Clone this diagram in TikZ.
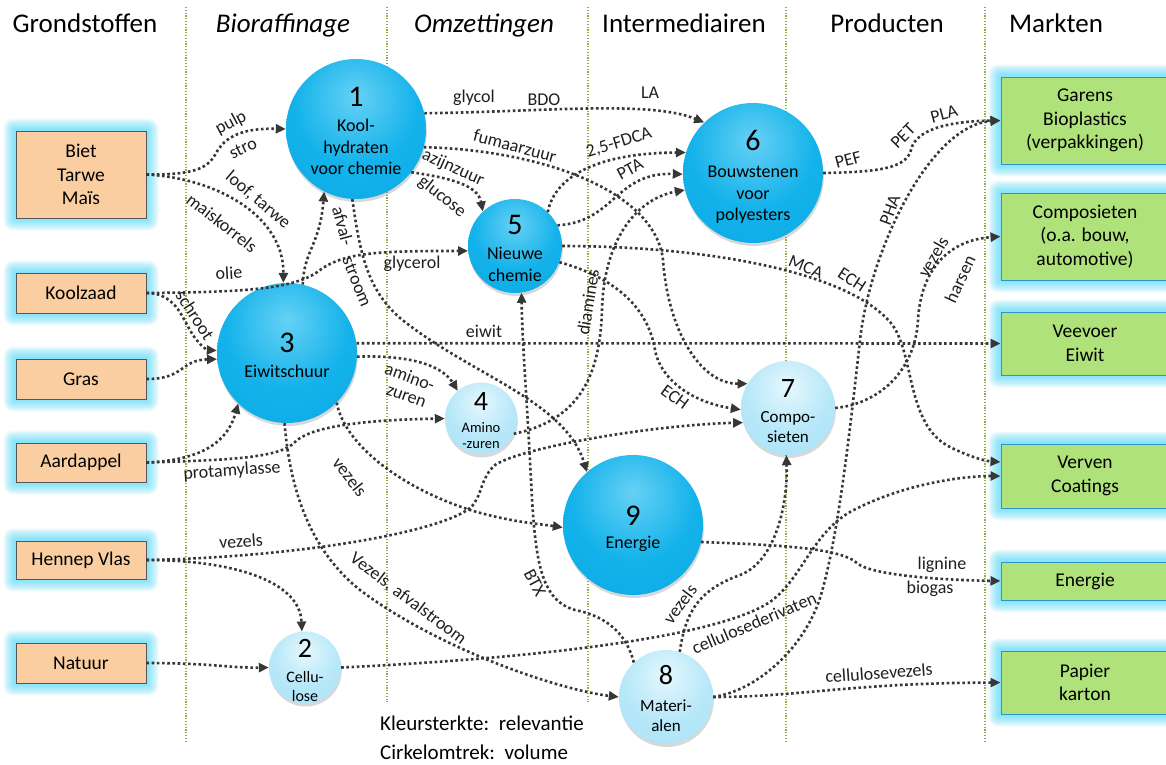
\documentclass[tikz,border=0pt]{standalone}
\usepackage{fontspec}
\setmainfont{Carlito}
\usetikzlibrary{arrows.meta,shadows,backgrounds}
\definecolor{peach}{RGB}{250,206,160}
\definecolor{mktgreen}{RGB}{175,226,122}
\definecolor{mktedge}{RGB}{40,150,200}
\definecolor{srcedge}{RGB}{85,85,85}
\definecolor{glowc}{RGB}{70,215,250}
\definecolor{flowc}{RGB}{55,55,55}
\definecolor{divc}{RGB}{140,175,70}
\pgfdeclareradialshading{darkball}{\pgfpoint{0bp}{12bp}}{rgb(0bp)=(0.40,0.82,0.96); rgb(22bp)=(0.08,0.70,0.92); rgb(52bp)=(0.03,0.65,0.89); rgb(62bp)=(0.02,0.57,0.82); rgb(100bp)=(0.02,0.55,0.80)}
\pgfdeclareradialshading{lightball}{\pgfpoint{0bp}{12bp}}{rgb(0bp)=(0.90,0.97,0.995); rgb(22bp)=(0.72,0.91,0.975); rgb(52bp)=(0.63,0.87,0.96); rgb(62bp)=(0.52,0.80,0.92); rgb(100bp)=(0.50,0.80,0.92)}
\newcommand\bignum[2][24]{{\fontsize{30}{30}\selectfont\rule{0pt}{#1pt}#2}}
\newcommand\smallnum[2][24]{{\fontsize{28}{28}\selectfont\rule{0pt}{#1pt}#2}}
\newcommand\glowbox[1]{%
  \begin{scope}[on background layer]
    \foreach \gi in {1,...,10}{%
      \fill[glowc, opacity=0.09, rounded corners=\gi pt]
        ([xshift=-\gi*1.2pt, yshift=\gi*1.2pt]#1.north west) rectangle ([xshift=\gi*1.2pt, yshift=-\gi*1.2pt]#1.south east);
    }
  \end{scope}}
\tikzset{
  hdr/.style={anchor=base, font=\fontsize{27}{30}\selectfont, inner sep=0pt},
  hdri/.style={hdr, font=\fontsize{27}{30}\selectfont\itshape},
  src/.style={draw=srcedge, line width=0.9pt, fill=peach, minimum width=130pt, align=center, inner sep=0pt, font=\fontsize{19.5}{23.5}\selectfont},
  mkt/.style={draw=mktedge, line width=1pt, fill=mktgreen, minimum width=168pt, align=center, inner sep=0pt, font=\fontsize{19.5}{23.5}\selectfont},
  bubble/.style={circle, inner sep=-12pt, align=center, drop shadow={shadow xshift=0.8pt, shadow yshift=-3pt, opacity=0.3}},
  darkc/.style={bubble, shading=darkball, font=\fontsize{18}{21.5}\selectfont},
  lightc/.style={bubble, shading=lightball},
  flow/.style={draw=flowc, line width=2.6pt, dash pattern=on 2.6pt off 2.6pt, -{Triangle[length=10pt,width=9pt]}},
  lbl/.style={font=\fontsize{18}{20}\selectfont, inner sep=0pt, text=black!88},
  divider/.style={draw=divc, line width=1.2pt, dash pattern=on 1.2pt off 1.6pt},
  legend/.style={anchor=base west, font=\fontsize{21}{24}\selectfont, inner sep=0pt}
}
\begin{document}
\begin{tikzpicture}[x=1pt,y=-1pt]
\useasboundingbox (0,0) rectangle (1166,764);
\begin{scope}[on background layer]\fill[white] (0,0) rectangle (1166,764);\end{scope}
% column dividers
\foreach \xx/\yy in {186/743, 387/702, 588/702, 786/743, 985/743}{\draw[divider] (\xx,7) -- (\xx,\yy);}
% headers
\node[hdr] (hA) at (85,32) {Grondstoffen};
\node[hdri] (hB) at (283,32) {Bioraffinage};
\node[hdri] (hC) at (484,32) {Omzettingen};
\node[hdr] (hD) at (684,32) {Intermediairen};
\node[hdr] (hE) at (887,32) {Producten};
\node[hdr] (hF) at (1056,32) {Markten};
% sources
\node[src, minimum height=87pt] (biet) at (81,174.5) {Biet\\Tarwe\\Maïs};
\node[src, minimum height=40pt] (kool) at (81,293) {Koolzaad};
\node[src, minimum height=40pt] (gras) at (81,379) {Gras};
\node[src, minimum height=39pt] (aard) at (81,462.5) {Aardappel};
\node[src, minimum height=38pt] (henn) at (81,560) {Hennep Vlas};
\node[src, minimum height=40pt] (natu) at (81,663) {Natuur};
% markets
\node[mkt, minimum height=87pt] (gar) at (1085,120.5) {Garens\\Bioplastics\\(verpakkingen)};
\node[mkt, minimum height=87pt] (comp) at (1085,236.5) {Composieten\\(o.a. bouw,\\automotive)};
\node[mkt, minimum height=63pt] (veev) at (1085,343.5) {Veevoer\\Eiwit};
\node[mkt, minimum height=64pt] (verv) at (1085,476) {Verven\\Coatings};
\node[mkt, minimum height=38pt] (ener) at (1085,581) {Energie};
\node[mkt, minimum height=63pt] (papi) at (1085,682.5) {Papier\\karton};
\foreach \nn in {biet,kool,gras,aard,henn,natu,gar,comp,veev,verv,ener,papi}{\glowbox{\nn}}
% circles
\node[darkc, minimum size=140pt] (c1) at (356,129) {\bignum{1}\\[3.5pt]Kool-\\hydraten\\voor chemie};
\node[darkc, minimum size=140pt] (c3) at (287,353) {\bignum[25]{3}\\[3.5pt]Eiwitschuur};
\node[darkc, minimum size=94pt] (c5) at (515,246) {\bignum[24.5]{5}\\[3.5pt]Nieuwe\\chemie};
\node[darkc, minimum size=140pt] (c6) at (753,173) {\bignum[28]{6}\\[5.5pt]Bouwstenen\\voor\\polyesters};
\node[darkc, minimum size=140pt] (c9) at (633,525) {\bignum[27]{9}\\[1.5pt]Energie};
\node[lightc, minimum size=72pt, font=\fontsize{14.5}{16}\selectfont] (c4) at (481,418.5) {\smallnum[23]{4}\\[6pt]Amino\\-zuren};
\node[lightc, minimum size=94pt, font=\fontsize{17}{20}\selectfont] (c7) at (788,408) {\smallnum[25]{7}\\[5pt]Compo-\\sieten};
\node[lightc, minimum size=94pt, font=\fontsize{17}{20}\selectfont] (c8) at (666,697) {\smallnum[23]{8}\\[7pt]Materi-\\alen};
\node[lightc, minimum size=72pt, font=\fontsize{16}{19}\selectfont] (c2) at (305,667.5) {\smallnum[25]{2}\\[6pt]Cellu-\\lose};
% flows from sources
\draw[flow] (biet.east) .. controls (195,175) and (207,168) .. (215,155) .. controls (225,135) and (245,128) .. (c1.west);
\draw[flow] (biet.east) .. controls (215,178) and (284,215) .. (c3.93);
\draw[flow] (kool.east) .. controls (240,292) and (295,290) .. (320,270) .. controls (345,252) and (380,251) .. (c5.186);
\draw[flow] (kool.east) .. controls (178,293) and (183,322) .. (195,338) .. controls (202,347) and (207,350) .. (c3.178);
\draw[flow] (gras.east) .. controls (185,379) and (180,360) .. (c3.185);
\draw[flow] (aard.east) .. controls (205,460) and (228,440) .. (c3.226);
\draw[flow] (aard.east) .. controls (230,460) and (280,458) .. (295,442) .. controls (310,427) and (360,420) .. (c4.west);
\draw[flow] (henn.east) .. controls (300,557) and (440,532) .. (470,508) .. controls (482,498) and (480,478) .. (495,465) .. controls (520,448) and (650,425) .. (c7.198);
\draw[flow] (henn.east) .. controls (230,560) and (300,580) .. (c2.95);
\draw[flow] (natu.east) .. controls (210,663) and (230,668) .. (c2.west);
% flows from circle 1
\draw[flow] (c1.13) .. controls (540,112) and (650,100) .. (c6.134);
\draw[flow] (c1.-15) .. controls (540,150) and (655,190) .. (663,260) .. controls (668,330) and (700,384) .. (c7.149);
\draw[flow] (c1.-38) .. controls (450,178) and (478,185) .. (c5.133);
\draw[flow] (c1.-93) .. controls (360,255) and (368,290) .. (400,318) .. controls (470,375) and (565,400) .. (c9.131);
% flows from circle 3
\draw[flow] (c3.77) .. controls (304,250) and (320,245) .. (c1.243);
\draw[flow] (c3.8) -- (veev.west);
\draw[flow] (c3.-3) .. controls (400,355) and (440,362) .. (c4.130);
\draw[flow] (c3.-45) .. controls (345,445) and (400,487) .. (470,510) .. controls (510,522) and (540,524) .. (c9.182);
\draw[flow] (c3.-92) .. controls (290,490) and (310,550) .. (360,590) .. controls (440,650) and (560,690) .. (c8.west);
% flows from circle 5 and 4
\draw[flow] (c5.46) .. controls (555,175) and (600,153) .. (c6.163);
\draw[flow] (c5.26) .. controls (615,222) and (615,172) .. (c6.181);
\draw[flow] (c5.0) .. controls (700,246) and (845,270) .. (890,322) .. controls (915,350) and (905,425) .. (950,447) .. controls (970,457) and (985,461) .. ([yshift=14pt]verv.west);
\draw[flow] (c5.-20) .. controls (630,282) and (650,320) .. (655,350) .. controls (660,378) and (690,402) .. (c7.182);
\draw[flow] (c4.-25) .. controls (580,420) and (600,375) .. (602,310) .. controls (604,235) and (640,198) .. (c6.194);
% flows from circle 8 and 2
\draw[flow] (c8.133) .. controls (625,628) and (600,615) .. (575,610) .. controls (540,600) and (535,560) .. (531,480) .. controls (527,400) and (522,340) .. (c5.-82);
\draw[flow] (c8.73) .. controls (686,605) and (705,588) .. (740,575) .. controls (775,562) and (788,505) .. (c7.-92);
\draw[flow] (c8.east) .. controls (760,690) and (805,645) .. (820,598) .. controls (838,540) and (850,430) .. (860,340) .. controls (870,250) and (930,125) .. (gar.west);
\draw[flow] (c8.east) .. controls (800,697) and (850,683) .. (papi.west);
\draw[flow] (c2.0) .. controls (500,660) and (700,642) .. (765,605) .. controls (800,585) and (810,535) .. (850,512) .. controls (900,485) and (960,476) .. (verv.west);
% flows to markets
\draw[flow] (c9.-14) .. controls (780,545) and (840,548) .. (857,563) .. controls (870,575) and (940,580) .. (ener.west);
\draw[flow] (c7.0) .. controls (878,404) and (915,372) .. (918,320) .. controls (921,268) and (950,240) .. (comp.west);
\draw[flow] (c6.0) .. controls (880,172) and (906,168) .. (911,150) .. controls (916,126) and (960,121) .. (gar.west);
% labels
\node[lbl, rotate=28] (lpulp) at (231,123) {pulp};
\node[lbl, rotate=25] (lstro) at (243,148) {stro};
\node[lbl, rotate=-40] (lloof) at (258,200) {loof, tarwe};
\node[lbl, rotate=-38] (lmais) at (222,223) {maiskorrels};
\node[lbl, rotate=3] (lolie) at (229,273) {olie};
\node[lbl, rotate=-57] (lschr) at (195,315) {schroot};
\node[lbl, rotate=4] (lprot) at (232,471) {protamylasse};
\node[lbl, rotate=4] (lvez1) at (241,541) {vezels};
\node[lbl] (lglyc) at (412,264) {glycerol};
\node[lbl, rotate=-75] (lafv1) at (343,226) {afval-};
\node[lbl, rotate=-68] (lafv2) at (357,282) {stroom};
\node[lbl] (lglycol) at (474,98) {glycol};
\node[lbl] (lbdo) at (544,100) {BDO};
\node[lbl] (lla) at (650,93) {LA};
\node[lbl, rotate=-15] (lfum) at (515,146) {fumaarzuur};
\node[lbl, rotate=-24] (lazij) at (453,168) {azijnzuur};
\node[lbl, rotate=-38] (lgluc) at (442,197) {glucose};
\node[lbl, rotate=17] (lfdca) at (619,143) {2,5-FDCA};
\node[lbl, rotate=28] (lpta) at (630,169) {PTA};
\node[lbl] (leiwit) at (484,331) {eiwit};
\node[lbl, rotate=-20] (lam1) at (410,377) {amino-};
\node[lbl, rotate=-20] (lam2) at (406,397) {zuren};
\node[lbl, rotate=81] (ldiam) at (588,302) {diamines};
\node[lbl, rotate=-36] (lech1) at (675,397) {ECH};
\node[lbl, rotate=-22] (lmca) at (806,267) {MCA};
\node[lbl, rotate=-33] (lech2) at (852,280) {ECH};
\node[lbl, rotate=15] (lpef) at (848,160) {PEF};
\node[lbl, rotate=45] (lpet) at (903,136) {PET};
\node[lbl, rotate=15] (lpla) at (944,114) {PLA};
\node[lbl, rotate=70] (lpha) at (890,210) {PHA};
\node[lbl, rotate=60] (lvez2) at (933,257) {vezels};
\node[lbl, rotate=65] (lhars) at (960,279) {harsen};
\node[lbl, rotate=-52] (lvez3) at (350,477) {vezels};
\node[lbl, rotate=-37] (lvafv) at (408,599) {Vezels, afvalstroom};
\node[lbl, rotate=-62] (lbtx) at (535,583) {BTX};
\node[lbl, rotate=53] (lvez4) at (680,604) {vezels};
\node[lbl, rotate=23] (lcder) at (754,623) {cellulosederivaten};
\node[lbl, rotate=4] (lcvez) at (879,673) {cellulosevezels};
\node[lbl] (llign) at (942,565) {lignine};
\node[lbl] (lbiog) at (930,589) {biogas};
% legend
\node[legend] (leg1) at (380,730) {Kleursterkte:\ \ relevantie};
\node[legend] (leg2) at (380,759) {Cirkelomtrek:\ \ volume};
\end{tikzpicture}
\end{document}
